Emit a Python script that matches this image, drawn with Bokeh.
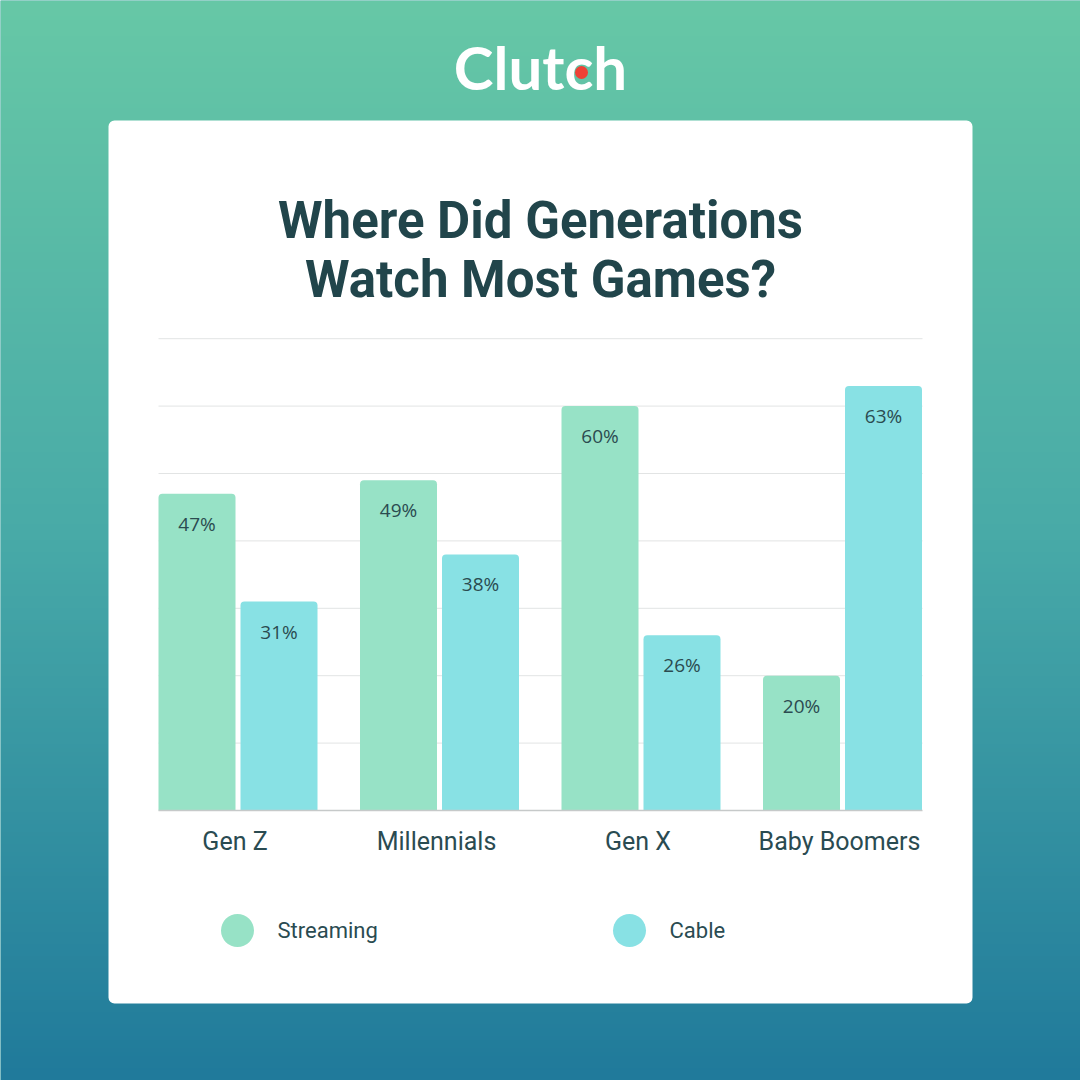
import numpy as np
from bokeh.plotting import figure
from bokeh.models import Range1d, ColumnDataSource
from bokeh.transform import dodge
from bokeh.core.properties import value
from bokeh.embed import file_html
from bokeh.resources import INLINE

# ---------------- data ----------------
generations = ["Gen Z", "Millennials", "Gen X", "Baby Boomers"]
series = ["Streaming", "Cable"]
streaming = [47, 49, 60, 20]
cable = [31, 38, 26, 63]
grid_ticks = [0, 10, 20, 30, 40, 50, 60, 70]
title_lines = ["Where Did Generations", "Watch Most Games?"]
brand = "Clutch"
series_colors = ["#97e2c6", "#88e1e4"]

# ---------------- figure (layout in reference pixels) ----------------
W = H = 1080
p = figure(width=W, height=H, x_range=Range1d(0, 1080), y_range=Range1d(1080, 0),
           output_backend="svg", toolbar_location=None, min_border=0,
           x_axis_location=None, y_axis_location=None, outline_line_color=None)
p.grid.visible = False
p.background_fill_color = "#48aaa8"
p.border_fill_color = "#48aaa8"

# data ranges (linear scales; group index on x, percent on y)
PX_PER_PCT = 6.74
BASE_Y = 810
GROUP_PX = 201.5
FIRST_GROUP_X = 237.5
p.extra_y_ranges = {"pct": Range1d(start=(BASE_Y - 1080) / PX_PER_PCT, end=BASE_Y / PX_PER_PCT)}
p.extra_x_ranges = {"grp": Range1d(start=(0 - FIRST_GROUP_X) / GROUP_PX, end=(1080 - FIRST_GROUP_X) / GROUP_PX)}
BAR_W = 77 / GROUP_PX
OFF = 41 / GROUP_PX

# ---------------- background gradient ----------------
rows = np.arange(0, 1080, 4) + 2
img = np.zeros((len(rows), 1), dtype=np.uint32)
view = img.view(dtype=np.uint8).reshape((len(rows), 1, 4))
stops_y = [0, 540, 1080]
stops_c = [(0x67, 0xc8, 0xa6), (0x48, 0xaa, 0xa8), (0x20, 0x7a, 0x9b)]
for ch in range(3):
    view[:, 0, ch] = np.interp(rows, stops_y, [c[ch] for c in stops_c]).astype(np.uint8)
view[:, 0, 3] = 255
p.image_rgba(image=[img], x=0, y=0, dw=1080, dh=1080)

# ---------------- card ----------------
p.quad(left=108, right=972, top=120, bottom=1003, fill_color="white", line_color=None,
       border_radius=6)

# ---------------- logo ----------------
p.text(x=[540], y=[66], text=[brand], text_font=value("Lato"), text_font_style="bold",
       text_font_size="60px", text_color="white", text_align="center", text_baseline="middle")
p.scatter(x=[581], y=[72], size=13, fill_color="#ee4136", line_color=None)

# ---------------- title ----------------
p.text(x=[540, 540], y=[220, 279], text=title_lines, text_font=value("Roboto"),
       text_font_style="bold", text_font_size="51px", text_color="#21454b",
       text_align="center", text_baseline="middle")

# ---------------- grid ----------------
p.segment(x0=158, x1=922, y0=grid_ticks[1:], y1=grid_ticks[1:], y_range_name="pct",
          line_color="#e2e4e4", line_width=1)

# ---------------- bars ----------------
idx = list(range(len(generations)))
src = ColumnDataSource(dict(
    x=idx, streaming=streaming, cable=cable,
    s_label=[f"{v}%" for v in streaming], c_label=[f"{v}%" for v in cable],
))
for key, off, color in [("streaming", -OFF, series_colors[0]), ("cable", OFF, series_colors[1])]:
    p.vbar(x=dodge("x", off), top=key, bottom=0, width=BAR_W, fill_color=color, line_color=None,
           source=src, x_range_name="grp", y_range_name="pct", border_radius=(4, 4, 0, 0))
    p.text(x=dodge("x", off), y=key, text=("s_label" if key == "streaming" else "c_label"),
           source=src, x_range_name="grp", y_range_name="pct",
           y_offset=30, text_font=value("Open Sans"), text_font_size="19px", text_color="#2b4b50",
           text_align="center", text_baseline="middle")

# baseline
p.segment(x0=158, x1=922, y0=[0], y1=[0], y_range_name="pct", line_color="#c6c9c9", line_width=1.5)

# category labels
p.text(x=idx, y=[0] * len(generations), text=generations, x_range_name="grp",
       y_range_name="pct", x_offset=-3, y_offset=31, text_font=value("Roboto"), text_font_size="25px",
       text_color="#2a4b51", text_align="center", text_baseline="middle")

# ---------------- legend ----------------
p.scatter(x=[237, 629], y=[930, 930], size=33, fill_color=series_colors, line_color=None)
p.text(x=[277, 669], y=[930, 930], text=series, text_font=value("Roboto"), text_font_size="22px",
       text_color="#2a4b51", text_align="left", text_baseline="middle")

open("out.html", "w").write(file_html(p, INLINE))
